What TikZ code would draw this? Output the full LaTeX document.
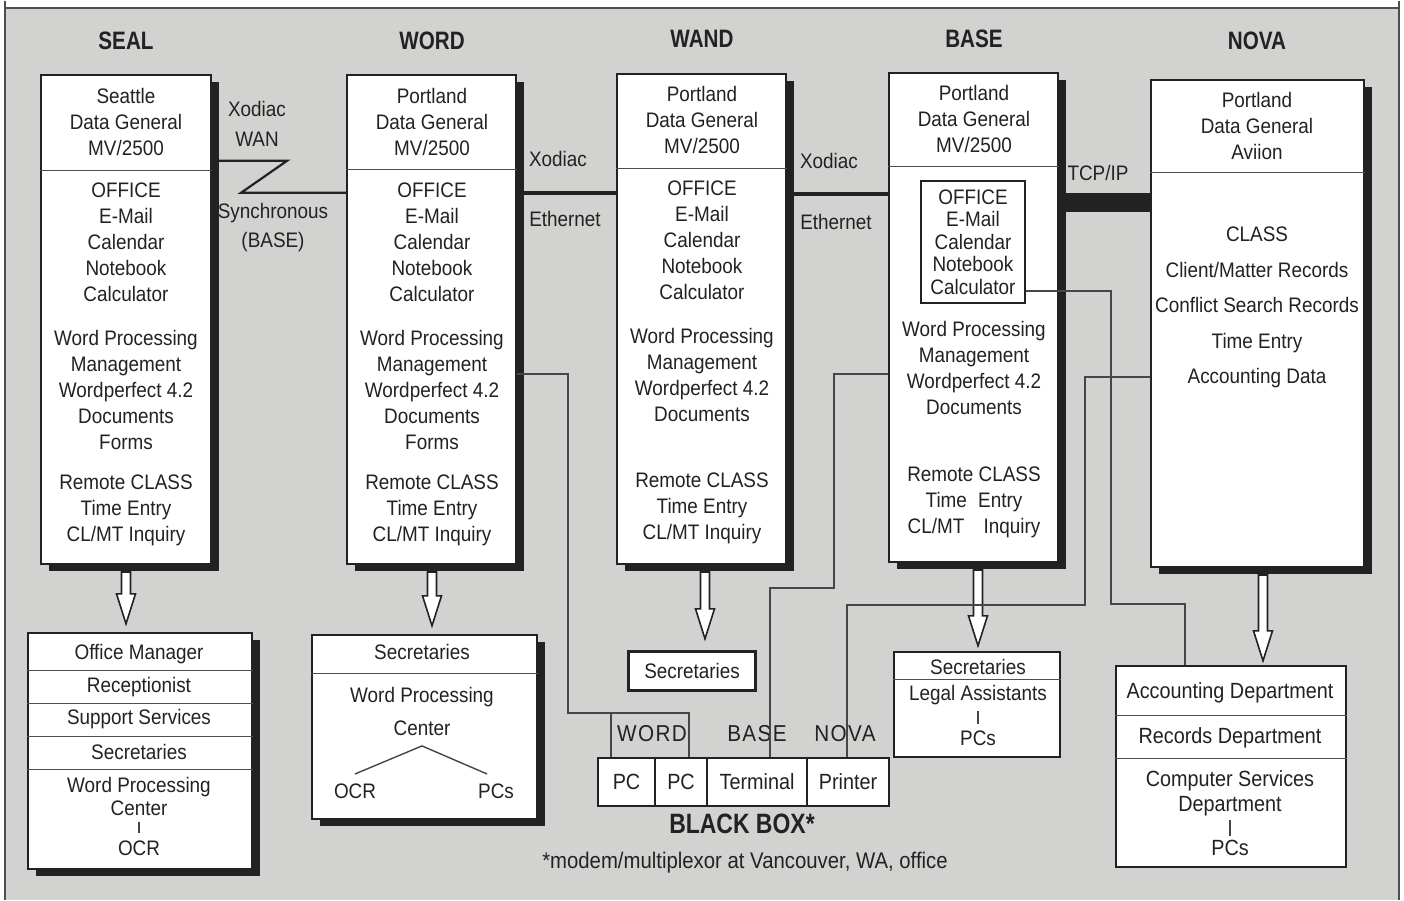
\documentclass[tikz,border=0pt]{standalone}
\usepackage{fontspec}
\setmainfont[FakeStretch=0.9]{Liberation Sans}
\newfontfamily\headfont[FakeStretch=0.82]{Liberation Sans}
\newfontfamily\spacedfont[FakeStretch=0.9,LetterSpace=6]{Liberation Sans}
\usetikzlibrary{calc,shadows}
\definecolor{bgc}{RGB}{210,210,208}
\definecolor{ink}{RGB}{34,34,34}
\definecolor{wirec}{RGB}{70,70,70}
% hollow double-line arrow from #1 down to #2
\newcommand\hollowarrow[2]{%
  \draw[fill=white,draw=ink,line width=0.8pt] let \p1=(#1), \p2=(#2) in
    (\x1-2.25pt,\y1) -- (\x1-2.25pt,\y2+15pt) -- (\x1-4.75pt,\y2+15pt) -- (\x1,\y2)
    -- (\x1+4.75pt,\y2+15pt) -- (\x1+2.25pt,\y2+15pt) -- (\x1+2.25pt,\y1) -- cycle;}
\begin{document}
\begin{tikzpicture}[x=0.5pt,y=-0.5pt,
  txt/.style={font=\fontsize{10.5}{13}\selectfont,text=ink,align=center,inner sep=0pt},
  head/.style={font=\headfont\bfseries\fontsize{12.6}{14}\selectfont,text=ink,inner sep=0pt},
  mainbox/.style={draw=ink,line width=1.1pt,fill=white,anchor=north west,inner sep=0pt,
    drop shadow={shadow xshift=3.75pt,shadow yshift=-3.75pt,opacity=1,fill=ink}},
  subbox/.style={draw=ink,line width=1pt,fill=white,anchor=north west,inner sep=0pt},
  cell/.style={subbox,minimum height=24pt,font=\fontsize{11}{13}\selectfont,text=ink},
  divider/.style={draw=ink!80,line width=0.6pt},
  wire/.style={draw=wirec,line width=0.7pt},
  ether/.style={draw=ink,line width=2.3pt}]
% frame
\fill[white] (0,0) rectangle (1404,899);
\fill[bgc] (5,7) rectangle (1399,899);
\draw[ink!80,line width=0.8pt] (5,0) -- (5,899) (1399,0) -- (1399,899) (5,7) -- (1399,7);
% headings
\node[head] (seal-head) at (126,40) {SEAL};
\node[head] (word-head) at (432,40) {WORD};
\node[head] (wand-head) at (702,38) {WAND};
\node[head] (base-head) at (974,38) {BASE};
\node[head] (nova-head) at (1257,40) {NOVA};
% main boxes
\node[mainbox,minimum width=85pt,minimum height=244.5pt] (seal) at (40,73) {};
\node[mainbox,minimum width=84.5pt,minimum height=244.5pt] (word) at (346,73) {};
\node[mainbox,minimum width=84.5pt,minimum height=245pt] (wand) at (616,72) {};
\node[mainbox,minimum width=84.5pt,minimum height=244.5pt] (base) at (888,71) {};
\node[mainbox,minimum width=106.5pt,minimum height=243.5pt] (nova) at (1150,78) {};
\draw[divider] (seal.west |- 0,170) -- (seal.east |- 0,170);
\draw[divider] (word.west |- 0,169) -- (word.east |- 0,169);
\draw[divider] (wand.west |- 0,168) -- (wand.east |- 0,168);
\draw[divider] (base.west |- 0,166) -- (base.east |- 0,166);
\draw[divider] (nova.west |- 0,172) -- (nova.east |- 0,172);
% SEAL contents
\node[txt] (seal-host) at (126,121) {Seattle\\Data General\\MV/2500};
\node[txt] (seal-office) at (126,241.5) {OFFICE\\E-Mail\\Calendar\\Notebook\\Calculator};
\node[txt] (seal-wp) at (126,389) {Word Processing\\Management\\Wordperfect 4.2\\Documents\\Forms};
\node[txt] (seal-class) at (126,510) {Remote CLASS\\Time Entry\\CL/MT Inquiry};
% WORD contents
\node[txt] (word-host) at (432,121) {Portland\\Data General\\MV/2500};
\node[txt] (word-office) at (432,241.5) {OFFICE\\E-Mail\\Calendar\\Notebook\\Calculator};
\node[txt] (word-wp) at (432,389) {Word Processing\\Management\\Wordperfect 4.2\\Documents\\Forms};
\node[txt] (word-class) at (432,510) {Remote CLASS\\Time Entry\\CL/MT Inquiry};
% WAND contents
\node[txt] (wand-host) at (702,119) {Portland\\Data General\\MV/2500};
\node[txt] (wand-office) at (702,239.5) {OFFICE\\E-Mail\\Calendar\\Notebook\\Calculator};
\node[txt] (wand-wp) at (702,374) {Word Processing\\Management\\Wordperfect 4.2\\Documents};
\node[txt] (wand-class) at (702,508) {Remote CLASS\\Time Entry\\CL/MT Inquiry};
% BASE contents
\node[txt] (base-host) at (974,118) {Portland\\Data General\\MV/2500};
\node[txt,draw=ink,line width=0.7pt,font=\fontsize{10.5}{11.25}\selectfont,
  minimum width=52pt,minimum height=61pt] (base-office) at (973,241)
  {OFFICE\\E-Mail\\Calendar\\Notebook\\Calculator};
\node[txt] (base-wp) at (974,367) {Word Processing\\Management\\Wordperfect 4.2\\Documents};
\node[txt] (base-class) at (974,502) {Remote CLASS\\Time\hspace{3pt} Entry\\CL/MT\hspace{7pt} Inquiry};
% NOVA contents
\node[txt] (nova-host) at (1257,125) {Portland\\Data General\\Aviion};
\node[txt,font=\fontsize{10.5}{17.75}\selectfont] (nova-class) at (1257,307)
  {CLASS\\Client/Matter Records\\Conflict Search Records\\Time Entry\\Accounting Data};
% links between hosts
\coordinate (wan1) at (287,160);
\coordinate (wan2) at (241,192);
\draw[ink,line width=1.1pt] (seal.east |- wan1) -- (wan1) -- (wan2) -- (word.west |- wan2);
\draw[ether] (word.east |- 0,192) -- (wand.west |- 0,192);
\draw[ether] (wand.east |- 0,193) -- (base.west |- 0,193);
\draw[ink,line width=9.5pt] (base.east |- 0,202) -- (nova.west |- 0,202);
\node[txt] (wan-a) at (257,108) {Xodiac};
\node[txt] (wan-b) at (257,138) {WAN};
\node[txt] (wan-c) at (273,212) {Synchronous};
\node[txt] (wan-d) at (273,241) {(BASE)};
\node[txt] (eth1-a) at (558,158) {Xodiac};
\node[txt] (eth1-b) at (565,218) {Ethernet};
\node[txt] (eth2-a) at (829,160) {Xodiac};
\node[txt] (eth2-b) at (836,221) {Ethernet};
\node[txt] (tcp) at (1098,172) {TCP/IP};
% staff boxes
\node[mainbox,minimum width=112pt,minimum height=118pt] (sealsub) at (27,631) {};
\foreach \yy in {670,703,736,769}
  \draw[divider] (sealsub.west |- 0,\yy) -- (sealsub.east |- 0,\yy);
\node[txt] (seal-s1) at (139,653) {Office Manager};
\node[txt] (seal-s2) at (139,686) {Receptionist};
\node[txt] (seal-s3) at (139,718) {Support Services};
\node[txt] (seal-s4) at (139,751) {Secretaries};
\node[txt,font=\fontsize{10.5}{11.5}\selectfont] (seal-s5) at (139,795.5) {Word Processing\\Center};
\node[txt] (seal-s6) at (139,847) {OCR};
\draw[wire,shorten <=3pt,shorten >=3.5pt] (seal-s5) -- (seal-s6);

\node[mainbox,minimum width=112.5pt,minimum height=92pt] (wordsub) at (311,633) {};
\draw[divider] (wordsub.west |- 0,673) -- (wordsub.east |- 0,673);
\node[txt] (word-s1) at (422,651) {Secretaries};
\node[txt,font=\fontsize{10.5}{16.5}\selectfont] (word-s2) at (422,710.5) {Word Processing\\Center};
\node[txt] (word-s3) at (355,790) {OCR};
\node[txt] (word-s4) at (496,790) {PCs};
\draw[wire] ($(word-s3.north)+(0,-9)$) -- ($(word-s2.south)+(0,10)$) -- ($(word-s4.north)+(-9,-9)$);

\node[subbox,line width=1.6pt,minimum width=63.5pt,minimum height=19.5pt,
  font=\fontsize{10.5}{13}\selectfont,text=ink] (wandsub) at (627,649) {Secretaries};

\node[subbox,minimum width=83pt,minimum height=52.5pt] (basesub) at (893,650) {};
\draw[divider] (basesub.west |- 0,679) -- (basesub.east |- 0,679);
\node[txt] (base-s1) at (978,666) {Secretaries};
\node[txt] (base-s2) at (978,694) {Legal Assistants};
\node[txt] (base-s3) at (978,737) {PCs};
\draw[wire,shorten <=3pt,shorten >=3pt] (base-s2) -- (base-s3);

\node[subbox,minimum width=115pt,minimum height=100.5pt] (novasub) at (1115,664) {};
\foreach \yy in {715,758}
  \draw[divider] (novasub.west |- 0,\yy) -- (novasub.east |- 0,\yy);
\node[txt,font=\fontsize{11}{13}\selectfont] (nova-s1) at (1230,692) {Accounting Department};
\node[txt,font=\fontsize{11}{13}\selectfont] (nova-s2) at (1230,737) {Records Department};
\node[txt,font=\fontsize{11}{12.5}\selectfont] (nova-s3) at (1230,792.5) {Computer Services\\Department};
\node[txt,font=\fontsize{11}{13}\selectfont] (nova-s4) at (1230,847) {PCs};
\draw[wire,shorten <=2pt,shorten >=2pt] (nova-s3) -- (nova-s4);
% arrows down to the staff boxes
\coordinate (seal-a) at ($(seal.south -| 126,0)+(0,7)$);
\coordinate (word-a) at ($(word.south -| 432,0)+(0,7)$);
\coordinate (wand-a) at ($(wand.south -| 705,0)+(0,7)$);
\coordinate (base-a) at ($(base.south -| 978,0)+(0,7)$);
\coordinate (nova-a) at ($(nova.south -| 1263,0)+(0,7)$);
\hollowarrow{seal-a}{$(seal-a |- sealsub.north)+(0,-8)$}
\hollowarrow{word-a}{$(word-a |- wordsub.north)+(0,-8)$}
\hollowarrow{wand-a}{$(wand-a |- wandsub.north)+(0,-11)$}
\hollowarrow{base-a}{$(base-a |- basesub.north)+(0,-5)$}
\hollowarrow{nova-a}{$(nova-a |- novasub.north)+(0,-4)$}
% black box
\node[cell,minimum width=28.5pt] (bb1) at (597,756) {PC};
\node[cell,minimum width=26pt] (bb2) at (654,756) {PC};
\node[cell,minimum width=50pt] (bb3) at (706,756) {Terminal};
\node[cell,minimum width=41pt] (bb4) at (806,756) {Printer};
\node[font=\spacedfont\fontsize{11.5}{13}\selectfont,text=ink,inner sep=0pt] (bb-word) at (652,733) {WORD};
\node[font=\spacedfont\fontsize{11.5}{13}\selectfont,text=ink,inner sep=0pt] (bb-base) at (757,733) {BASE};
\node[font=\spacedfont\fontsize{11.5}{13}\selectfont,text=ink,inner sep=0pt] (bb-nova) at (845,733) {NOVA};
\node[head,font=\headfont\bfseries\fontsize{14}{16}\selectfont] (bb-title) at (742,823) {BLACK BOX*};
\node[txt,font=\fontsize{11.3}{13}\selectfont] (bb-note) at (745,862) {*modem/multiplexor at Vancouver, WA, office};
% terminal wiring
\coordinate (w1) at (568,373);
\coordinate (w2) at (568,712);
\coordinate (w3) at (689,712);
\coordinate (w4) at (611,712);
\draw[wire] (word.east |- w1) -- (w1) -- (w2) -- (w3) -- (w3 |- bb2.north);
\draw[wire] (w4) -- (w4 |- bb1.north);
\coordinate (b1) at (834,373);
\coordinate (b2) at (834,587);
\coordinate (b3) at (770,587);
\draw[wire] (base.west |- b1) -- (b1) -- (b2) -- (b3) -- (b3 |- bb3.north);
\coordinate (n1) at (1085,376);
\coordinate (n2) at (1085,604);
\coordinate (n3) at (847,604);
\draw[wire] (nova.west |- n1) -- (n1) -- (n2) -- (n3) -- (n3 |- bb4.north);
\coordinate (o1) at (1111,290);
\coordinate (o2) at (1111,603);
\coordinate (o3) at (1185,603);
\draw[wire] (base-office.east |- o1) -- (o1) -- (o2) -- (o3) -- (o3 |- novasub.north);
\end{tikzpicture}
\end{document}
